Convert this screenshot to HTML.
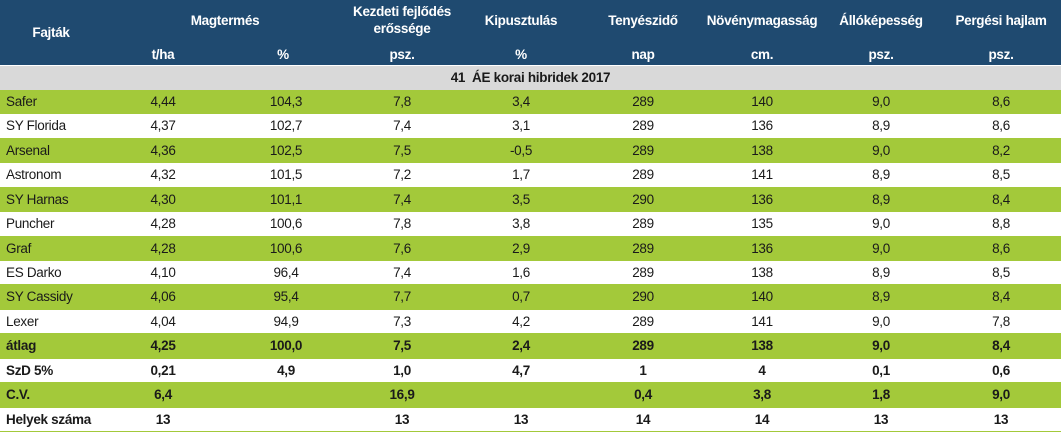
<!DOCTYPE html>
<html><head><meta charset="utf-8"><style>
*{margin:0;padding:0;box-sizing:border-box}
body{width:1061px;height:432px;overflow:hidden;background:#fff;font-family:"Liberation Sans Narrow","Liberation Sans",sans-serif;font-size:13.5px;letter-spacing:-0.3px;color:#1a1a1a;position:relative}
.hdr{position:absolute;left:0;top:0;width:1061px;height:65px;background:#1f4a70;color:#fff;font-weight:bold}
.hdr div{position:absolute;transform:translateX(-50%);white-space:nowrap;line-height:16px}
.grey{position:absolute;left:0;top:66px;width:1061px;height:24px;background:#d9d9d9;text-align:center;font-weight:bold;line-height:24px}
.row{position:absolute;left:0;width:1061px;height:24.4px;border-bottom:1px solid #a3c93a}
.g{background:#a3c93a}
.row span{position:absolute;top:0;line-height:24px;transform:translateX(-50%);white-space:nowrap}
.row span.n{left:6px;transform:none}
.b{font-weight:bold}
</style></head><body>
<div class="hdr">
<div style="left:51px;top:25px">Fajták</div>
<div style="left:225px;top:13px">Magtermés</div>
<div style="left:402px;top:4px">Kezdeti fejlődés</div>
<div style="left:402px;top:21px">erőssége</div>
<div style="left:521px;top:13px">Kipusztulás</div>
<div style="left:643px;top:13px">Tenyészidő</div>
<div style="left:762px;top:13px">Növénymagasság</div>
<div style="left:881px;top:13px">Állóképesség</div>
<div style="left:1001px;top:13px">Pergési hajlam</div>
<div style="left:163px;top:47px">t/ha</div>
<div style="left:283px;top:47px">%</div>
<div style="left:402px;top:47px">psz.</div>
<div style="left:521px;top:47px">%</div>
<div style="left:643px;top:47px">nap</div>
<div style="left:762px;top:47px">cm.</div>
<div style="left:881px;top:47px">psz.</div>
<div style="left:1001px;top:47px">psz.</div>
</div>
<div class="grey">41&nbsp; ÁE korai hibridek 2017</div>
<div id="t"></div>
<script>
var d=[
["Safer","4,44","104,3","7,8","3,4","289","140","9,0","8,6"],
["SY Florida","4,37","102,7","7,4","3,1","289","136","8,9","8,6"],
["Arsenal","4,36","102,5","7,5","-0,5","289","138","9,0","8,2"],
["Astronom","4,32","101,5","7,2","1,7","289","141","8,9","8,5"],
["SY Harnas","4,30","101,1","7,4","3,5","290","136","8,9","8,4"],
["Puncher","4,28","100,6","7,8","3,8","289","135","9,0","8,8"],
["Graf","4,28","100,6","7,6","2,9","289","136","9,0","8,6"],
["ES Darko","4,10","96,4","7,4","1,6","289","138","8,9","8,5"],
["SY Cassidy","4,06","95,4","7,7","0,7","290","140","8,9","8,4"],
["Lexer","4,04","94,9","7,3","4,2","289","141","9,0","7,8"],
["átlag","4,25","100,0","7,5","2,4","289","138","9,0","8,4"],
["SzD 5%","0,21","4,9","1,0","4,7","1","4","0,1","0,6"],
["C.V.","6,4","","16,9","","0,4","3,8","1,8","9,0"],
["Helyek száma","13","","13","13","14","14","13","13"]];
var x=[163,286,402,521,643,762,881,1001],h="";
d.forEach(function(r,i){
 var top=90+i*24.43;
 h+='<div class="row'+(i%2==0?' g':'')+(i>=10?' b':'')+'" style="top:'+top+'px"><span class="n">'+r[0]+'</span>';
 for(var j=1;j<9;j++)h+='<span style="left:'+x[j-1]+'px">'+r[j]+'</span>';
 h+='</div>';});
document.getElementById('t').innerHTML=h;
</script>
</body></html>
